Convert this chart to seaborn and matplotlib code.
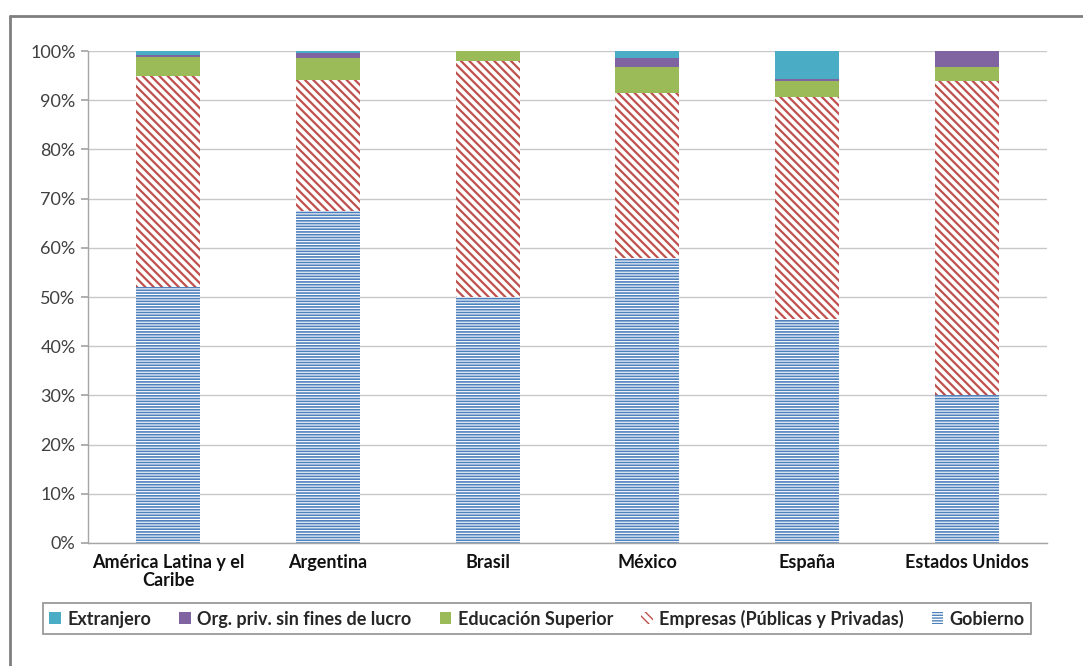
import numpy as np
import matplotlib
matplotlib.use("Agg")
import matplotlib.pyplot as plt
from matplotlib.patches import Patch
from matplotlib.lines import Line2D
import seaborn as sns

# Financiamiento de la I+D por sector (porcentaje del total)
paises = ["América Latina y el\nCaribe", "Argentina", "Brasil", "México", "España", "Estados Unidos"]
gobierno = [52.0, 67.5, 50.0, 57.9, 45.5, 30.1]
empresas = [42.9, 26.6, 48.0, 33.5, 45.1, 63.8]
educacion = [3.8, 4.5, 2.0, 5.4, 3.4, 2.9]
org_priv = [0.5, 1.0, 0.0, 1.7, 0.3, 3.2]
extranjero = [0.8, 0.4, 0.0, 1.5, 5.7, 0.0]

sectores = ["Extranjero", "Org. priv. sin fines de lucro", "Educación Superior",
            "Empresas (Públicas y Privadas)", "Gobierno"]
colores = {"Extranjero": "#4BACC6", "Org. priv. sin fines de lucro": "#8064A2",
           "Educación Superior": "#9BBB59", "Empresas (Públicas y Privadas)": "#C0504D",
           "Gobierno": "#4F81BD"}
HATCH_EMP = "\\\\\\\\"
HATCH_GOB = "------"
GROSOR = {"Empresas (Públicas y Privadas)": 1.6, "Gobierno": 1.2}

sns.set_theme(style="white")
plt.rcParams["font.family"] = ["Lato", "DejaVu Sans"]

fig = plt.figure(figsize=(10.83, 6.66), dpi=100)
ax = fig.add_axes([0.0813, 0.1847, 0.8855, 0.7387])

# cumulative tops, drawn from the highest layer down so each layer covers the one beneath
capas = [
    ("Extranjero", np.array(gobierno) + empresas + educacion + org_priv + extranjero, None),
    ("Org. priv. sin fines de lucro", np.array(gobierno) + empresas + educacion + org_priv, None),
    ("Educación Superior", np.array(gobierno) + empresas + educacion, None),
    ("Empresas (Públicas y Privadas)", np.array(gobierno) + empresas, HATCH_EMP),
    ("Gobierno", np.array(gobierno, dtype=float), HATCH_GOB),
]

for nombre, tope, hatch in capas:
    if hatch is None:
        sns.barplot(x=paises, y=tope, color=colores[nombre], saturation=1,
                    width=0.4, linewidth=0, ax=ax)
    else:
        n0 = len(ax.patches)
        sns.barplot(x=paises, y=tope, color="white", saturation=1, width=0.4,
                    hatch=hatch, edgecolor=colores[nombre], linewidth=0, ax=ax)
        for p in ax.patches[n0:]:
            if hasattr(p, "set_hatch_linewidth"):
                p.set_hatch_linewidth(GROSOR[nombre])

FS = 13
ax.set_ylim(0, 100)
ax.set_xlim(-0.5, len(paises) - 0.5)
ax.set_yticks(np.arange(0, 101, 10))
ax.set_yticklabels([f"{v}%" for v in range(0, 101, 10)], fontsize=FS, color="#404040")
ax.set_xticks(range(len(paises)))
ax.set_xticklabels(paises, fontsize=FS, fontweight="bold", color="#111111", linespacing=1.05)
ax.set_xticks(np.arange(-0.5, len(paises), 1), minor=True)
ax.tick_params(axis="x", which="major", length=0, pad=8)
ax.tick_params(axis="x", which="minor", length=5, color="#A6A6A6", direction="out")
ax.tick_params(axis="y", length=5, color="#A6A6A6", direction="out", pad=4, left=True)
ax.yaxis.grid(True, color="#C8C8C8", linewidth=1.0)
ax.set_axisbelow(True)
for s in ["top", "right"]:
    ax.spines[s].set_visible(False)
for s in ["left", "bottom"]:
    ax.spines[s].set_color("#A6A6A6")
    ax.spines[s].set_linewidth(1.0)
ax.set_xlabel("")
ax.set_ylabel("")

handles = []
for nombre in sectores:
    if nombre == "Empresas (Públicas y Privadas)":
        handles.append(Patch(facecolor="white", edgecolor=colores[nombre], hatch=HATCH_EMP, linewidth=0))
    elif nombre == "Gobierno":
        handles.append(Patch(facecolor="white", edgecolor=colores[nombre], hatch=HATCH_GOB, linewidth=0))
    else:
        handles.append(Patch(facecolor=colores[nombre], linewidth=0))

leg = fig.legend(handles, sectores, loc="center", bbox_to_anchor=(0.496, 0.0713), ncol=5,
                 frameon=True, fancybox=False, edgecolor="#808080",
                 handlelength=0.65, handleheight=0.65, handletextpad=0.35, columnspacing=1.55,
                 borderpad=0.35, prop={"weight": "bold", "size": FS})
leg.get_frame().set_linewidth(1.3)

# outer chart frame
fig.add_artist(Line2D([10 / 1083, 10 / 1083], [1 - 16 / 666, 0], transform=fig.transFigure,
                      color="#7F7F7F", linewidth=2))
fig.add_artist(Line2D([10 / 1083, 1.0], [1 - 16 / 666, 1 - 16 / 666], transform=fig.transFigure,
                      color="#7F7F7F", linewidth=2))

fig.savefig("out.png", dpi=100, facecolor="white")
